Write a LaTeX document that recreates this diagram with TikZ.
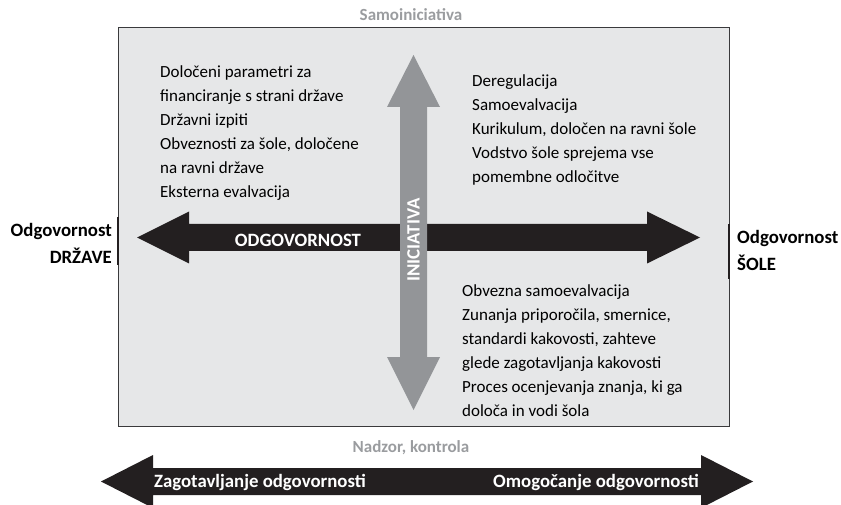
\documentclass[tikz,border=0pt]{standalone}
\usepackage{fontspec}
\setmainfont{Carlito}
\definecolor{darkblack}{HTML}{231F20}
\definecolor{midgray}{HTML}{939598}
\definecolor{boxgray}{HTML}{E6E7E8}
\definecolor{framegray}{HTML}{3A3A3C}
\definecolor{axisgray}{HTML}{9A9C9F}
\tikzset{
        % Filled block arrows
        block_black/.style={fill=darkblack},
        block_gray/.style={fill=midgray},
        % Lists of measures
        text_block/.style={align=left, anchor=north west, inner sep=0pt, font=\fontsize{17}{24}\selectfont},
        % Ends of the responsibility axis
        label_side/.style={inner sep=0pt, font=\bfseries\fontsize{18.8}{27}\selectfont},
        % Gray captions above and below the frame
        label_axis/.style={inner sep=0pt, text=axisgray, font=\bfseries\fontsize{17}{20}\selectfont},
        % White text on the arrows
        label_arrow/.style={inner sep=0pt, text=white, font=\bfseries\fontsize{18.8}{20}\selectfont}
}
\begin{document}
\begin{tikzpicture}[x=1pt, y=-1pt]
    \useasboundingbox (0,0) rectangle (841,505);
    % frame
    \draw[fill=boxgray, draw=framegray, line width=1pt] (118,28) rectangle (729,426);
    \draw[darkblack, line width=2.5pt] (118,217) -- (118,265);
    \draw[darkblack, line width=2.5pt] (729,224) -- (729,279);
    % horizontal arrow
    \fill[block_black] (137,237.5) -- (189,211.5) -- (189,224) -- (647,224) -- (647,211.5)
        -- (700,237.5) -- (647,263.5) -- (647,251) -- (189,251) -- (189,263.5) -- cycle;
    % vertical arrow
    \fill[block_gray] (413.5,55) -- (440,107) -- (427,107) -- (427,357) -- (440,357)
        -- (413.5,410) -- (387,357) -- (400,357) -- (400,107) -- (387,107) -- cycle;
    % bottom arrow
    \fill[block_black] (101,481.5) -- (153,455) -- (153,468) -- (701,468) -- (701,455)
        -- (753,481.5) -- (701,508) -- (701,495) -- (153,495) -- (153,508) -- cycle;

    \node[label_axis] (samo) at (411,15) {Samoiniciativa};
    \node[label_axis] (nadzor) at (411,448) {Nadzor, kontrola};
    \node[label_side, align=right, anchor=east] (drzava) at (112,243) {Odgovornost\\DRŽAVE};
    \node[label_side, align=left, anchor=west] (sola) at (737,250) {Odgovornost\\ŠOLE};
    \node[label_arrow] (odg) at (298,240) {ODGOVORNOST};
    \node[label_arrow, rotate=90] (inic) at (413.5,240) {INICIATIVA};
    \node[label_arrow, anchor=west] (zag) at (154,482) {Zagotavljanje odgovornosti};
    \node[label_arrow, anchor=east] (omog) at (699,482) {Omogočanje odgovornosti};

    \node[text_block] (drzava_list) at (160,65) {Določeni parametri za\\financiranje s strani države\\Državni izpiti\\Obveznosti za šole, določene\\na ravni države\\Eksterna evalvacija};
    \node[text_block] (sola_list) at (472,74) {Deregulacija\\Samoevalvacija\\Kurikulum, določen na ravni šole\\Vodstvo šole sprejema vse\\pomembne odločitve};
    \node[text_block] (nadzor_list) at (462,284) {Obvezna samoevalvacija\\Zunanja priporočila, smernice,\\standardi kakovosti, zahteve\\glede zagotavljanja kakovosti\\Proces ocenjevanja znanja, ki ga\\določa in vodi šola};
\end{tikzpicture}
\end{document}
